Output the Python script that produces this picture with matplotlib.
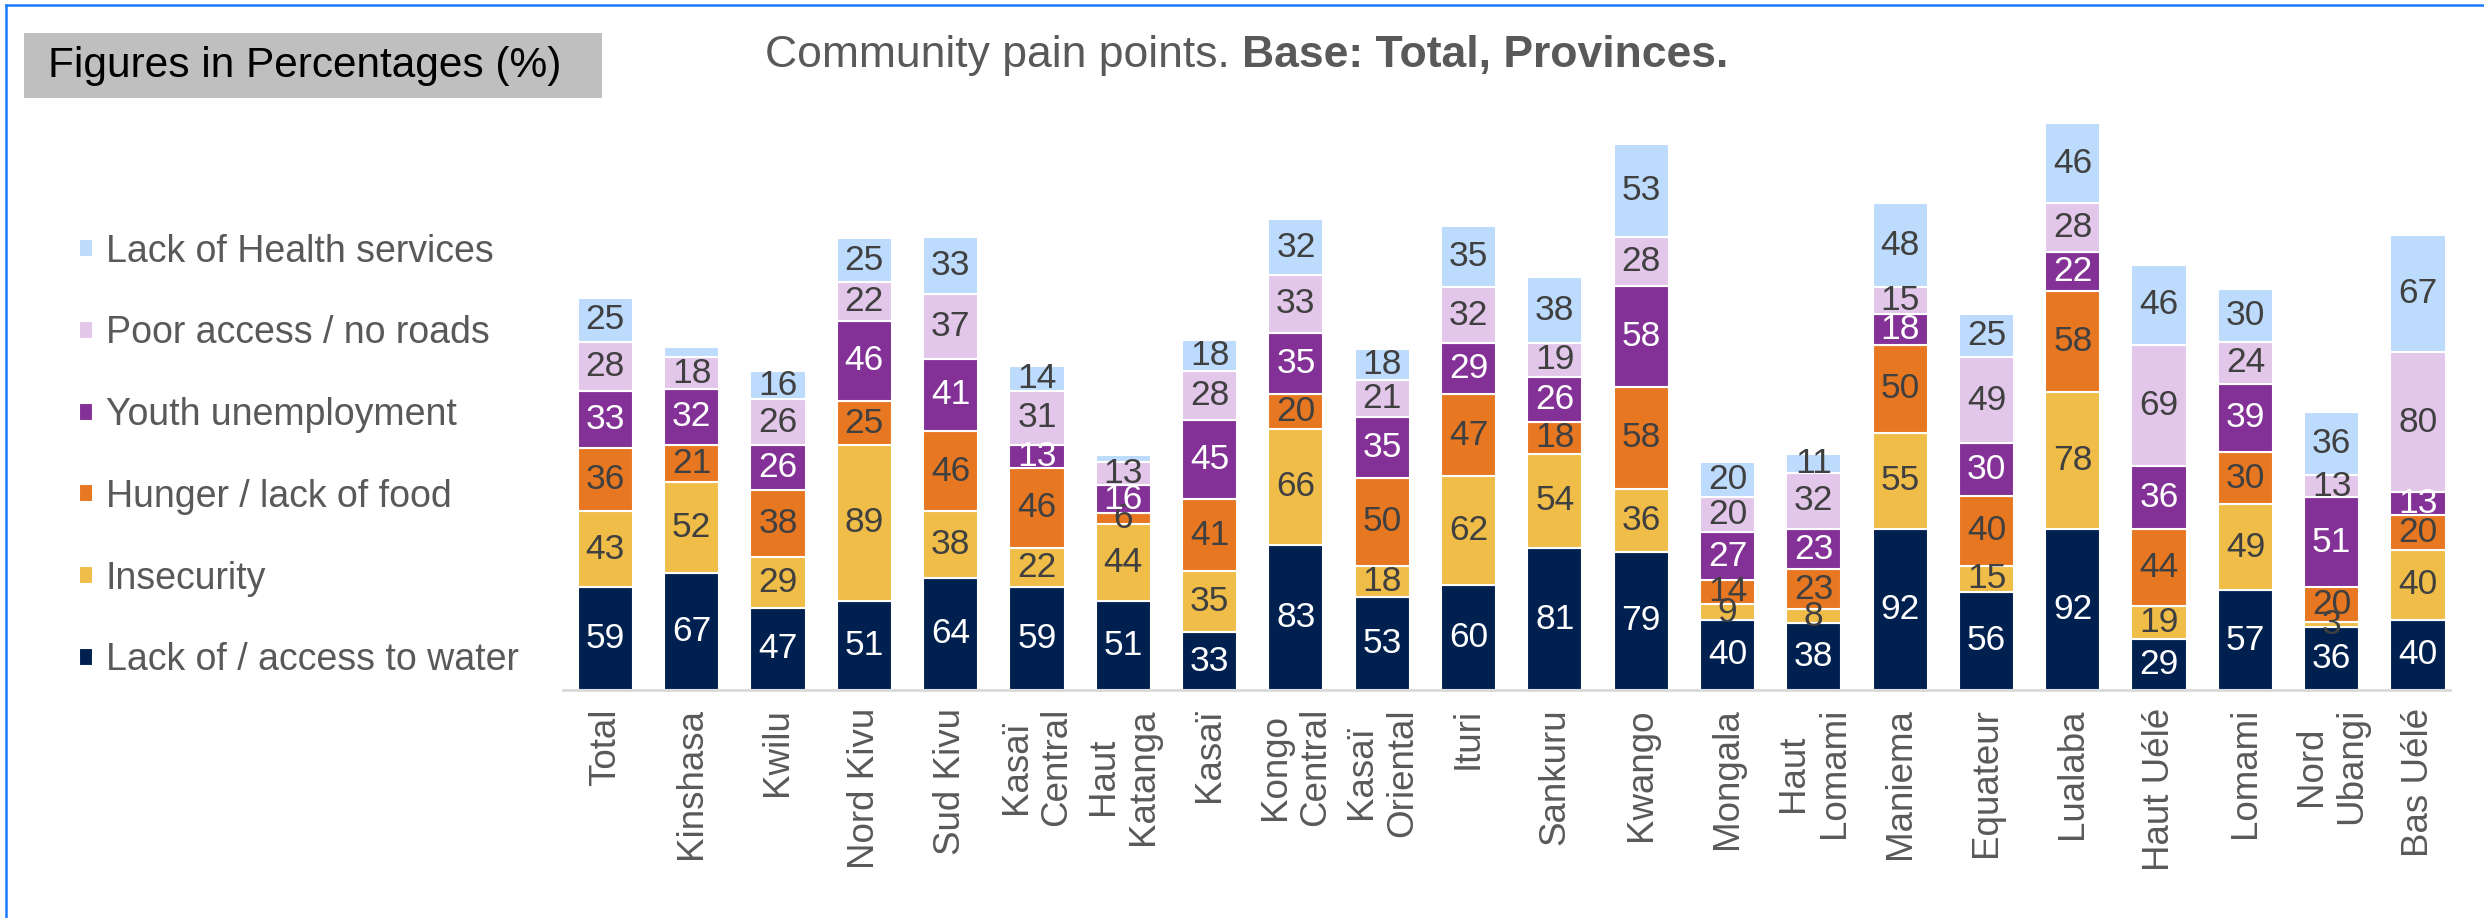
import matplotlib
matplotlib.use("Agg")
import matplotlib.pyplot as plt
from matplotlib.patches import Rectangle
from matplotlib.lines import Line2D

plt.rcParams['font.family'] = ['Liberation Sans', 'DejaVu Sans']

# provinces (x axis)
provinces = ["Total", "Kinshasa", "Kwilu", "Nord Kivu", "Sud Kivu", "Kasaï\nCentral",
             "Haut\nKatanga", "Kasaï", "Kongo\nCentral", "Kasaï\nOriental", "Ituri",
             "Sankuru", "Kwango", "Mongala", "Haut\nLomami", "Maniema", "Equateur",
             "Lualaba", "Haut Uélé", "Lomami", "Nord\nUbangi", "Bas Uélé"]

# series, bottom to top
water = [59, 67, 47, 51, 64, 59, 51, 33, 83, 53, 60, 81, 79, 40, 38, 92, 56, 92, 29, 57, 36, 40]
insecurity = [43, 52, 29, 89, 38, 22, 44, 35, 66, 18, 62, 54, 36, 9, 8, 55, 15, 78, 19, 49, 3, 40]
hunger = [36, 21, 38, 25, 46, 46, 6, 41, 20, 50, 47, 18, 58, 14, 23, 50, 40, 58, 44, 30, 20, 20]
youth = [33, 32, 26, 46, 41, 13, 16, 45, 35, 35, 29, 26, 58, 27, 23, 18, 30, 22, 36, 39, 51, 13]
roads = [28, 18, 26, 22, 37, 31, 13, 28, 33, 21, 32, 19, 28, 20, 32, 15, 49, 28, 69, 24, 13, 80]
health = [25, 6, 16, 25, 33, 14, 4, 18, 32, 18, 35, 38, 53, 20, 11, 48, 25, 46, 46, 30, 36, 67]

series = [
    ("Lack of / access to water", water, "#002150", "white"),
    ("Insecurity", insecurity, "#F0BD48", "#404040"),
    ("Hunger / lack of food", hunger, "#E87722", "#404040"),
    ("Youth unemployment", youth, "#833197", "white"),
    ("Poor access / no roads", roads, "#E3C7EB", "#404040"),
    ("Lack of Health services", health, "#BDDBFD", "#404040"),
]

W, H = 2484, 918
fig = plt.figure(figsize=(W / 100, H / 100), dpi=100)
ax = fig.add_axes([563 / W, 1 - 690 / H, (2450 - 563) / W, (690 - 100) / H])

x = list(range(len(provinces)))
bottom = [0] * len(provinces)
handles = []
for name, vals, col, tcol in series:
    bars = ax.bar(x, vals, 0.64, bottom=bottom, color=col, edgecolor='white',
                  linewidth=1.5, label=name)
    # tiny health segments carry no label in the original
    labels = [str(v) if not (name.startswith("Lack of Health") and v < 7) else ""
              for v in vals]
    ax.bar_label(bars, labels=labels, label_type='center', color=tcol, fontsize=25.5)
    bottom = [b + v for b, v in zip(bottom, vals)]
    handles.append(bars)

ax.set_xlim(-0.49, 21.37)
ax.set_ylim(0, 337)
ax.set_yticks([])
ax.set_xticks(x)
ax.set_xticklabels(provinces, rotation=90, fontsize=26.5, color='#595959', linespacing=1.2)
ax.tick_params(axis='x', length=0, pad=13)
for s in ['top', 'right', 'left']:
    ax.spines[s].set_visible(False)
ax.spines['bottom'].set_color('#D9D9D9')
ax.spines['bottom'].set_linewidth(2)

fig.legend(handles[::-1], [s[0] for s in series][::-1], loc='center left',
           bbox_to_anchor=(79 / W, 1 - 456 / H), frameon=False, fontsize=27,
           labelcolor='#595959', handlelength=0.36, handleheight=0.36,
           handletextpad=0.35, labelspacing=1.22, borderpad=0, borderaxespad=0)

# header box and title
fig.patches.append(Rectangle((24 / W, 1 - 98 / H), 578 / W, 65 / H,
                             transform=fig.transFigure, facecolor='#BFBFBF', zorder=0))
fig.text(48 / W, 1 - 66 / H, "Figures in Percentages (%)", fontsize=30.5, color='black',
         va='center')
t1 = fig.text(765 / W, 1 - 55 / H, "Community pain points. ", fontsize=32,
              color='#595959', va='center')
ax.annotate("Base: Total, Provinces.", xy=(1, 0), xycoords=t1, va='bottom', ha='left',
            fontsize=32, fontweight='bold', color='#595959', annotation_clip=False)

# blue frame on the left and top edges
fig.add_artist(Line2D([6 / W, 6 / W], [0, 1 - 5 / H], color='#1A7AFF', linewidth=1.8,
                      transform=fig.transFigure))
fig.add_artist(Line2D([6 / W, 1], [1 - 5 / H, 1 - 5 / H], color='#1A7AFF', linewidth=1.8,
                      transform=fig.transFigure))

fig.savefig("out.png", dpi=100)
